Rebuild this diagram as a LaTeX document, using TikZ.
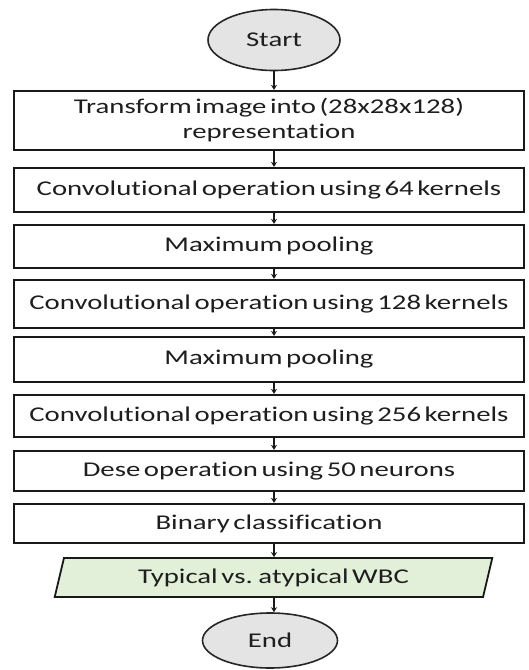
\documentclass[tikz,border=0pt]{standalone}
\usepackage{fontspec}
\setmainfont{Carlito}[FakeStretch=1.37, Ligatures=NoCommon, WordSpace=0.55]
\usetikzlibrary{shapes.geometric,arrows.meta}
\definecolor{termgray}{HTML}{E4E4E4}
\definecolor{iogreen}{HTML}{E2F0D9}
\definecolor{txt}{HTML}{1E1E1E}
\begin{document}
\begin{tikzpicture}[x=1pt,y=-1pt,
  every node/.style={font=\fontsize{21}{25}\selectfont, text=txt, inner sep=0pt},
  term/.style={ellipse, draw=black!85, line width=1.6pt, fill=termgray},
  procbox/.style={rectangle, draw=black!90, line width=2.2pt, fill=white, minimum width=510pt, align=center},
  iobox/.style={trapezium, trapezium left angle=71.6, trapezium right angle=108.4, trapezium stretches=true, draw=black!90, line width=1.8pt, fill=iogreen, minimum width=439pt, minimum height=39pt},
  conn/.style={line width=1.3pt, draw=black!90, -{Stealth[length=5pt,width=6pt]}}
]
\useasboundingbox (0,0) rectangle (528,670);
\node[term, minimum width=132pt, minimum height=61pt] (start) at (274,40) {Start};
\node[procbox, minimum height=59pt] (b1) at (269,120.5) {Transform image into (28x28x128)\\representation};
\node[procbox, minimum height=44pt] (b2) at (269,190) {Convolutional operation using 64 kernels};
\node[procbox, minimum height=43pt] (b3) at (269,246.5) {Maximum pooling};
\node[procbox, minimum height=48pt] (b4) at (269,304) {Convolutional operation using 128 kernels};
\node[procbox, minimum height=45pt] (b5) at (269,359.5) {Maximum pooling};
\node[procbox, minimum height=42pt] (b6) at (269,416) {Convolutional operation using 256 kernels};
\node[procbox, minimum height=40pt] (b7) at (269,471) {Dese operation using 50 neurons};
\node[procbox, minimum height=39pt] (b8) at (269,523.5) {Binary classification};
\node[iobox] (io) at (273.5,577.5) {Typical vs. atypical WBC};
\node[term, minimum width=135pt, minimum height=55pt] (end) at (270,640.5) {End};
\draw[conn] (start.south) -- (start.south |- b1.north);
\draw[conn] (start.south |- b1.south) -- (start.south |- b2.north);
\draw[conn] (start.south |- b2.south) -- (start.south |- b3.north);
\draw[conn] (start.south |- b3.south) -- (start.south |- b4.north);
\draw[conn] (start.south |- b4.south) -- (start.south |- b5.north);
\draw[conn] (start.south |- b5.south) -- (start.south |- b6.north);
\draw[conn] (start.south |- b6.south) -- (start.south |- b7.north);
\draw[conn] (start.south |- b7.south) -- (start.south |- b8.north);
\draw[conn] (start.south |- b8.south) -- (start.south |- io.north);
\draw[conn] (start.south |- io.south) -- (start.south |- end.north);
\end{tikzpicture}
\end{document}
